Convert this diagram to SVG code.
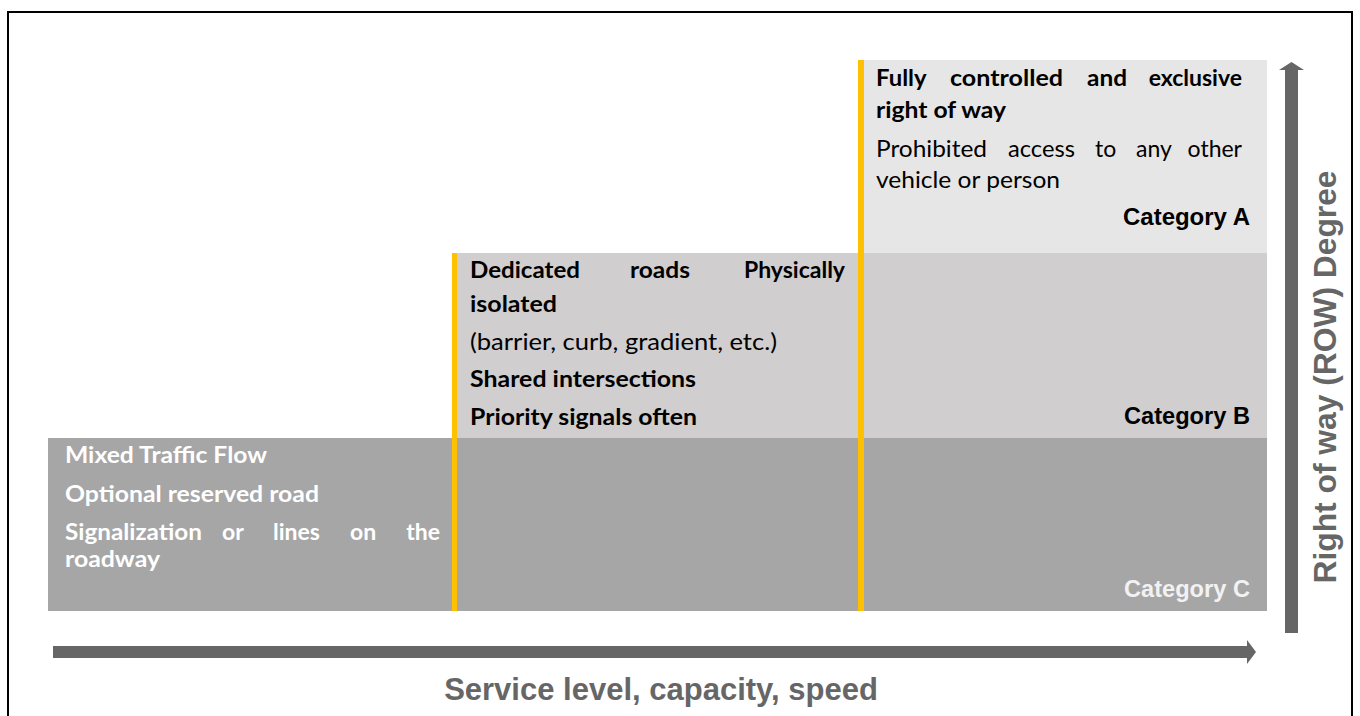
<svg xmlns="http://www.w3.org/2000/svg" width="1360" height="716" viewBox="0 0 1360 716">
  <style>
    .body { font-family: Lato, "Open Sans", sans-serif; font-size: 23px; fill: #000; }
    .b { font-weight: bold; }
    .light { fill: #ffffff; }
    .cat { font-family: "Liberation Sans", Arial, sans-serif; font-weight: bold; font-size: 23.5px; text-anchor: end; }
    .axis { font-family: "Liberation Sans", Arial, sans-serif; font-weight: bold; fill: #666666; }
    .bar { fill: #ffc000; }
    .arrow { fill: #666666; }
  </style>

  <rect x="0" y="0" width="1360" height="716" fill="#ffffff"/>
  <!-- outer frame -->
  <rect x="8" y="12" width="1344" height="720" fill="none" stroke="#000" stroke-width="2"/>

  <!-- Category C: mixed traffic -->
  <g id="category-c">
    <rect x="48" y="438" width="1219" height="173" fill="#a6a6a6"/>
    <text class="body b light" x="65" y="463" textLength="202" lengthAdjust="spacingAndGlyphs">Mixed Traffic Flow</text>
    <text class="body b light" x="65" y="502" textLength="254" lengthAdjust="spacingAndGlyphs">Optional reserved road</text>
    <text class="body b light" y="540">
      <tspan x="65" textLength="137" lengthAdjust="spacingAndGlyphs">Signalization</tspan>
      <tspan x="222">or</tspan>
      <tspan x="273">lines</tspan>
      <tspan x="350">on</tspan>
      <tspan x="440" text-anchor="end">the</tspan>
    </text>
    <text class="body b light" x="65" y="567" textLength="95" lengthAdjust="spacingAndGlyphs">roadway</text>
    <text class="cat" x="1250" y="597" fill="#f2f2f2" textLength="126" lengthAdjust="spacingAndGlyphs">Category C</text>
  </g>

  <!-- Category B: dedicated roads -->
  <g id="category-b">
    <rect x="452" y="253" width="815" height="185" fill="#d0cece"/>
    <text class="body b" y="278">
      <tspan x="470" textLength="110" lengthAdjust="spacingAndGlyphs">Dedicated</tspan>
      <tspan x="630" textLength="60" lengthAdjust="spacingAndGlyphs">roads</tspan>
      <tspan x="845" text-anchor="end">Physically</tspan>
    </text>
    <text class="body b" x="470" y="312" textLength="87" lengthAdjust="spacingAndGlyphs">isolated</text>
    <text class="body" x="470" y="350" textLength="307" lengthAdjust="spacingAndGlyphs">(barrier, curb, gradient, etc.)</text>
    <text class="body b" x="470" y="387" textLength="226" lengthAdjust="spacingAndGlyphs">Shared intersections</text>
    <text class="body b" x="470" y="425" textLength="227" lengthAdjust="spacingAndGlyphs">Priority signals often</text>
    <text class="cat" x="1250" y="424" fill="#000" textLength="126" lengthAdjust="spacingAndGlyphs">Category B</text>
  </g>

  <!-- Category A: exclusive right of way -->
  <g id="category-a">
    <rect x="858" y="60" width="409" height="193" fill="#e7e6e6"/>
    <text class="body b" y="86">
      <tspan x="876" textLength="50" lengthAdjust="spacingAndGlyphs">Fully</tspan>
      <tspan x="950" textLength="113" lengthAdjust="spacingAndGlyphs">controlled</tspan>
      <tspan x="1087" textLength="40" lengthAdjust="spacingAndGlyphs">and</tspan>
      <tspan x="1242" text-anchor="end">exclusive</tspan>
    </text>
    <text class="body b" x="876" y="118" textLength="130" lengthAdjust="spacingAndGlyphs">right of way</text>
    <text class="body" y="157">
      <tspan x="876" textLength="111" lengthAdjust="spacingAndGlyphs">Prohibited</tspan>
      <tspan x="1008" textLength="67" lengthAdjust="spacingAndGlyphs">access</tspan>
      <tspan x="1095">to</tspan>
      <tspan x="1136">any</tspan>
      <tspan x="1242" text-anchor="end">other</tspan>
    </text>
    <text class="body" x="876" y="188" textLength="184" lengthAdjust="spacingAndGlyphs">vehicle or person</text>
    <text class="cat" x="1250" y="225" fill="#000" textLength="127" lengthAdjust="spacingAndGlyphs">Category A</text>
  </g>

  <!-- step edges -->
  <g id="step-edges">
    <rect class="bar" x="452" y="253" width="5" height="358"/>
    <rect class="bar" x="858" y="60" width="6" height="551"/>
  </g>

  <!-- axes -->
  <g id="connectors">
    <g id="axis-x">
      <rect class="arrow" x="53" y="646" width="1195" height="12"/>
      <polygon class="arrow" points="1247,640 1256,652 1247,664"/>
    </g>
    <g id="axis-y">
      <rect class="arrow" x="1285" y="70" width="13" height="563"/>
      <polygon class="arrow" points="1279,70 1291.5,62 1304,70"/>
    </g>
  </g>

  <text class="axis" x="661" y="700" font-size="31" text-anchor="middle">Service level, capacity, speed</text>
  <text class="axis" transform="translate(1336 377) rotate(-90)" x="0" y="0" font-size="32" text-anchor="middle" textLength="413" lengthAdjust="spacingAndGlyphs">Right of way (ROW) Degree</text>
</svg>
